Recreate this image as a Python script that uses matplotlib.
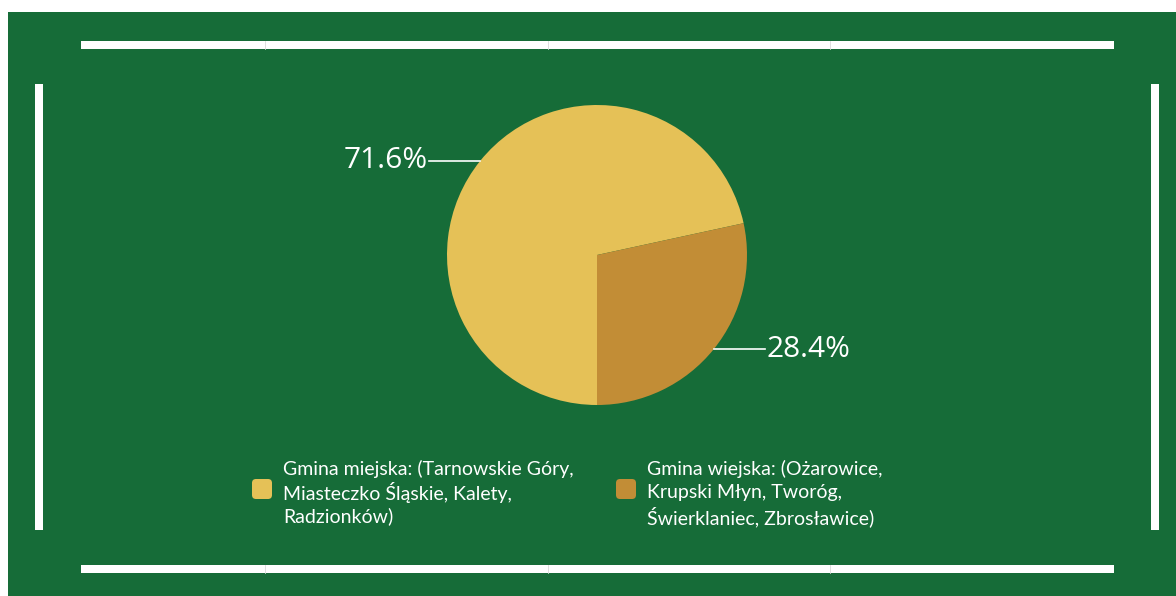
import matplotlib.pyplot as plt
from matplotlib.patches import Rectangle, FancyBboxPatch
import numpy as np

# data
labels = [
    ["Gmina miejska: (Tarnowskie Góry,", "Miasteczko Śląskie, Kalety,", "Radzionków)"],
    ["Gmina wiejska: (Ożarowice,", "Krupski Młyn, Tworóg,", "Świerklaniec, Zbrosławice)"],
]
shares = [71.6, 28.4]
colors = ["#E5C157", "#C28D36"]
green = "#166C38"

W, H = 1176, 596
fig = plt.figure(figsize=(W / 100, H / 100), dpi=100)
fig.patch.set_facecolor("white")

# background axes in pixel coordinates
bg = fig.add_axes([0, 0, 1, 1])
bg.set_xlim(0, W)
bg.set_ylim(H, 0)
bg.axis("off")
bg.add_patch(Rectangle((8, 12), W - 8, H - 12, color=green, lw=0))

lw = 8 * 72 / 100
for y in (44.5, 569):
    bg.plot([81, 1114], [y, y], color="white", lw=lw, solid_capstyle="butt")
    for x in (265, 548, 830):
        bg.plot([x, x], [y - 4, y + 4], color="#d9d9d9", lw=0.6)
for x in (39, 1155):
    bg.plot([x, x], [84, 530], color="white", lw=lw, solid_capstyle="butt")

# pie axes: centre (597, 255) px, radius 150 px
R = 150
lim = 1.6
size = 2 * lim * R
cx, cy = 597, 255
ax = fig.add_axes([(cx - size / 2) / W, (H - cy - size / 2) / H, size / W, size / H])

wedges, _ = ax.pie(shares, colors=colors, startangle=-90, counterclock=False,
                   radius=1, wedgeprops=dict(linewidth=0))
ax.set_xlim(-lim, lim)
ax.set_ylim(-lim, lim)
ax.set_aspect("equal")
ax.axis("off")

for w, s in zip(wedges, shares):
    ang = np.deg2rad((w.theta1 + w.theta2) / 2)
    x0, y0 = np.cos(ang), np.sin(ang)
    side = np.sign(x0)
    x1 = x0 + side * 0.34
    ax.plot([x0, x1], [y0, y0], color="white", lw=1.2)
    ax.text(x1 + side * 0.01, y0, f"{s:.1f}%", color="white", fontsize=21.5,
            family="Open Sans", ha="left" if side > 0 else "right", va="center")

# legend drawn by hand
leg_pos = [(262, 283), (626, 647)]
for (mx, tx), lines, c in zip(leg_pos, labels, colors):
    bg.add_patch(FancyBboxPatch((mx - 8, 489 - 8), 16, 16,
                                boxstyle="round,pad=2,rounding_size=4",
                                color=c, lw=0))
    for i, line in enumerate(lines):
        bg.text(tx, 467 + i * 24, line, color="white", fontsize=14, family="Lato",
                ha="left", va="center_baseline")

fig.savefig("out.png", dpi=100)
